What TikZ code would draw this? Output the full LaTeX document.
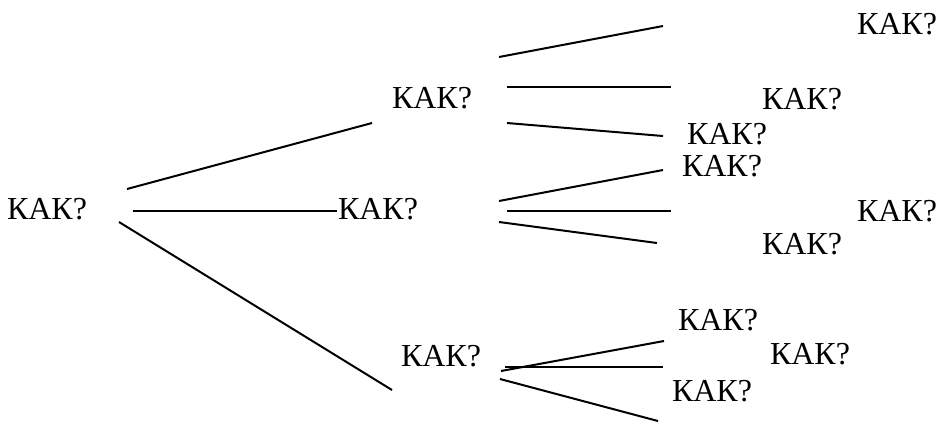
\documentclass[tikz,border=0pt]{standalone}
\usepackage{fontspec}
\setmainfont{Liberation Serif}
\usepackage{tikz}

\tikzset{kak/.style={inner sep=0pt, font=\fontsize{16}{19}\selectfont}}

\begin{document}
\begin{tikzpicture}[x=0.5pt,y=-0.5pt,line width=1pt]
    \useasboundingbox (0,0) rectangle (939,425);

    % labels
    \node[kak] (root) at (47,209) {КАК?};
    \node[kak] (top) at (432,98) {КАК?};
    \node[kak] (mid) at (378,209) {КАК?};
    \node[kak] (bot) at (441,356) {КАК?};

    \node[kak] (t1) at (897,24) {КАК?};
    \node[kak] (t2) at (802,99) {КАК?};
    \node[kak] (t3) at (727,134) {КАК?};
    \node[kak] (m1) at (722,166) {КАК?};
    \node[kak] (m2) at (897,211) {КАК?};
    \node[kak] (m3) at (802,244) {КАК?};
    \node[kak] (b1) at (718,320) {КАК?};
    \node[kak] (b2) at (810,354) {КАК?};
    \node[kak] (b3) at (712,391) {КАК?};

    % root lines
    \coordinate (R1) at (127,189);
    \coordinate (R2) at (133,211);
    \coordinate (R3) at (119,222);
    \coordinate (E1) at (372,123);
    \coordinate (E2) at (mid.west |- R2);
    \coordinate (E3) at (392,390);
    \draw (R1) -- (E1);
    \draw (R2) -- (E2);
    \draw (R3) -- (E3);

    % upper fan
    \coordinate (T0a) at (499,57);
    \coordinate (T0b) at (507,87);
    \coordinate (T0c) at (507,123);
    \coordinate (T1) at (663,26);
    \coordinate (T2) at (671,87);
    \coordinate (T3) at (663,136);
    \draw (T0a) -- (T1);
    \draw (T0b) -- (T2);
    \draw (T0c) -- (T3);

    % middle fan
    \coordinate (M0a) at (499,201);
    \coordinate (M0b) at (507,211);
    \coordinate (M0c) at (499,222);
    \coordinate (M1) at (663,170);
    \coordinate (M2) at (671,211);
    \coordinate (M3) at (657,243);
    \draw (M0a) -- (M1);
    \draw (M0b) -- (M2);
    \draw (M0c) -- (M3);

    % lower fan
    \coordinate (B0a) at (501,371);
    \coordinate (B0b) at (505,367);
    \coordinate (B0c) at (500,379);
    \coordinate (B1) at (664,341);
    \coordinate (B2) at (663,367);
    \coordinate (B3) at (658,421);
    \draw (B0a) -- (B1);
    \draw (B0b) -- (B2);
    \draw (B0c) -- (B3);
\end{tikzpicture}
\end{document}
